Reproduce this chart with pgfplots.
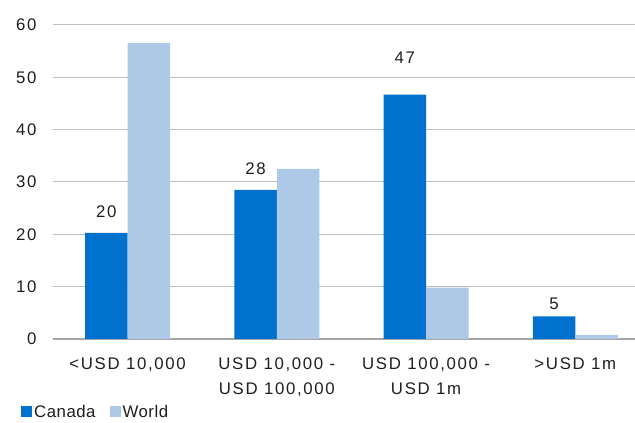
\documentclass[border=0pt]{standalone}
\usepackage{pgfplots}
\pgfplotsset{compat=1.18}
\usepackage{fontspec}
\setmainfont{Liberation Sans}[LetterSpace=10]
\newfontfamily\legfont{Liberation Sans}[LetterSpace=3]
\definecolor{canada}{RGB}{0,114,206}
\definecolor{world}{RGB}{174,200,232}
\definecolor{gridc}{RGB}{192,192,192}
\definecolor{basec}{RGB}{165,165,165}
\definecolor{txt}{RGB}{30,30,30}
\newcommand{\f}{\fontsize{16.8bp}{25bp}\selectfont}
\begin{document}
\begin{tikzpicture}
\begin{axis}[name=ax, scale only axis, width=582bp, height=314bp,
 xmin=-0.5, xmax=3.4, ymin=0, ymax=60,
 ytick={10,20,...,60}, extra y ticks={0}, extra y tick labels={0},
 extra y tick style={grid style={basec, line width=1.8bp}},
 ymajorgrids, grid style={gridc, line width=1bp},
 axis line style={draw=none}, major tick length=0pt,
 xtick={0,1,2,3},
 xticklabels={{<USD 10,000},{USD 10,000 -\\USD 100,000},{USD 100,000 -\\USD 1m},{>USD 1m}},
 xticklabel style={align=center, font=\f, text=txt, yshift=-15bp},
 yticklabel style={font=\f, text=txt, xshift=-13bp},
 /pgf/number format/assume math mode=true,
 ybar, bar width=42.5bp,
 legend style={at={(axis description cs:0,0)}, anchor=west, xshift=-35bp, yshift=-73bp,
   draw=none, fill=none, font=\legfont\f, text=txt, legend columns=2,
   /tikz/every even column/.append style={column sep=12bp}},
 legend image code/.code={\fill[#1] (0bp,-5.5bp) rectangle (11bp,5.5bp);},
]
\addplot[fill=canada, draw=none, bar shift=-21.25bp] coordinates {(0,20.3) (1,28.5) (2,46.7) (3,4.3)};
\addlegendentry{Canada}
\addplot[fill=world, draw=none, bar shift=21.25bp] coordinates {(0,56.6) (1,32.5) (2,9.8) (3,0.8)};
\addlegendentry{World}
\addplot[draw=none, fill=none, bar shift=-21.25bp, forget plot, point meta=explicit symbolic,
  nodes near coords, every node near coord/.append style={anchor=center, font=\f, text=txt}]
  coordinates {(0,24.3)[20] (1,32.5)[28] (2,53.7)[47] (3,6.7)[5]};
\end{axis}
\pgfresetboundingbox
\path ([xshift=-53bp,yshift=-84bp]ax.south west) rectangle ([yshift=25bp]ax.north east);
\end{tikzpicture}
\end{document}
